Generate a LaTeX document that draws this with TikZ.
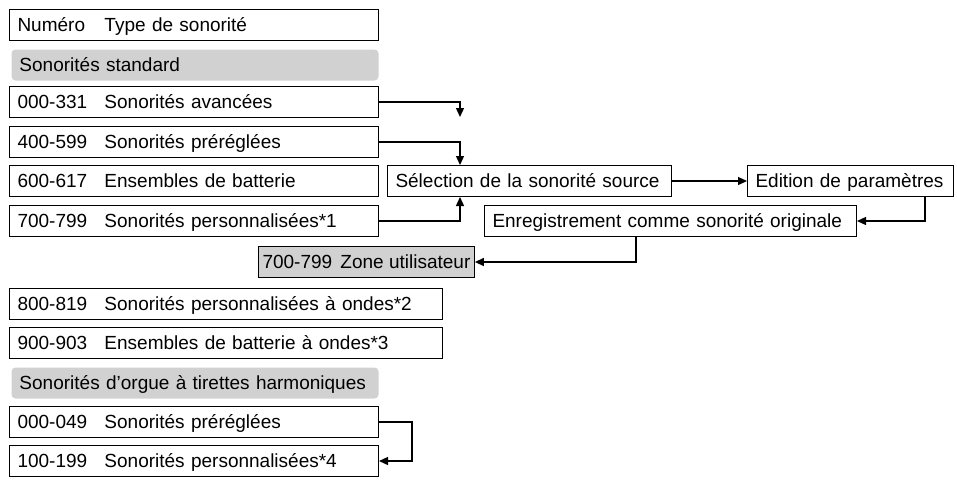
\documentclass[tikz,border=0pt]{standalone}
\usepackage{fontspec}
\setmainfont{Liberation Sans}
\usetikzlibrary{arrows.meta}
\newcommand{\nb}[1]{\makebox[87pt][l]{#1}}
\begin{document}
\begin{tikzpicture}[x=1pt,y=-1pt,
  box/.style={draw,line width=1pt,anchor=north west,minimum height=31pt,inner xsep=8pt,inner ysep=0pt,font=\fontsize{19}{22}\selectfont,text height=15pt,text depth=3pt,align=left},
  gbox/.style={box,fill=black!18},
  rbox/.style={gbox,draw=none,rounded corners=4pt},
  arr/.style={line width=1.3pt,-{Triangle[length=9pt,width=8pt]}}]
\useasboundingbox (0,0) rectangle (957,490);
\node[box,minimum width=369pt,text width=353pt] (h) at (9,9) {\nb{Numéro}Type de sonorité};
\node[rbox,minimum width=367pt,text width=351pt] (s) at (11,49) {Sonorités standard};
\node[box,minimum width=369pt,text width=353pt] (a) at (9,86) {\nb{000-331}Sonorités avancées};
\node[box,minimum width=369pt,text width=353pt] (b) at (9,126) {\nb{400-599}Sonorités préréglées};
\node[box,minimum width=369pt,text width=353pt] (c) at (9,165) {\nb{600-617}Ensembles de batterie};
\node[box,minimum width=369pt,text width=353pt] (d) at (9,205) {\nb{700-799}Sonorités personnalisées*1};
\node[box,minimum width=284pt,text width=268pt] (sel) at (387,165) {Sélection de la sonorité source};
\node[box,minimum width=206pt,text width=190pt] (ed) at (747,165) {Edition de paramètres};
\node[box,minimum width=372pt,text width=356pt] (en) at (484,205) {Enregistrement comme sonorité originale};
\node[gbox,minimum width=212pt,inner xsep=4pt] (z) at (258,246) {\makebox[78pt][l]{700-799}Zone utilisateur};
\node[box,minimum width=433pt,text width=417pt] (e) at (9,288) {\nb{800-819}Sonorités personnalisées à ondes*2};
\node[box,minimum width=433pt,text width=417pt] (f) at (9,327) {\nb{900-903}Ensembles de batterie à ondes*3};
\node[rbox,minimum width=367pt,text width=351pt] (o) at (11,367) {Sonorités d’orgue à tirettes harmoniques};
\node[box,minimum width=369pt,text width=353pt] (g) at (9,406) {\nb{000-049}Sonorités préréglées};
\node[box,minimum width=369pt,text width=353pt] (k) at (9,445) {\nb{100-199}Sonorités personnalisées*4};
\coordinate (ae) at (460,117);
\coordinate (gk) at (412,440);
\draw[arr] (a.east) -| (ae);
\draw[arr] (b.east) -| (sel.north -| ae);
\draw[arr] (d.east) -| (sel.south -| ae);
\draw[arr] (sel.east) -- (ed.west);
\draw[arr] (ed.south -| 925,0) |- (en.east);
\draw[arr] (en.south -| 636,0) |- (z.east);
\draw[arr] (g.east) -| (gk) |- (k.east);
\end{tikzpicture}
\end{document}
